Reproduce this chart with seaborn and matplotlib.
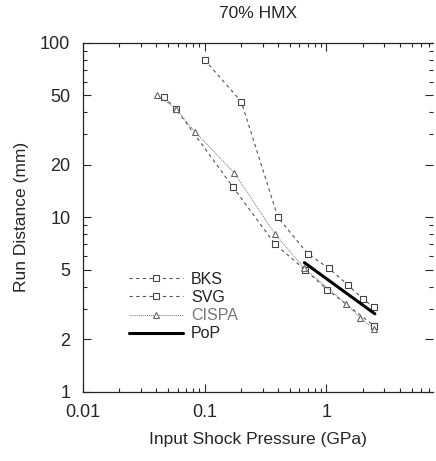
import matplotlib
matplotlib.use("Agg")
import matplotlib.pyplot as plt
import matplotlib.ticker as mticker
import seaborn as sns

# data (pressure in GPa, run distance in mm)
bks_p = [0.1, 0.2, 0.4, 0.7, 1.05, 1.5, 2.0, 2.45]
bks_d = [80, 46, 10, 6.2, 5.1, 4.1, 3.4, 3.05]

svg_p = [0.046, 0.058, 0.17, 0.38, 0.67, 1.02, 2.45]
svg_d = [49, 42, 15, 7.0, 5.0, 3.85, 2.4]

cispa_p = [0.041, 0.058, 0.083, 0.175, 0.38, 0.66, 1.45, 1.9, 2.45]
cispa_d = [50, 42, 31, 18, 8.0, 5.1, 3.2, 2.65, 2.3]

pop_p = [0.66, 2.5]
pop_d = [5.5, 2.8]

y_ticks = [1, 2, 5, 10, 20, 50, 100]
x_ticks = [0.01, 0.1, 1]

sns.set_style("ticks")
plt.rcParams['font.family'] = ['Liberation Sans', 'DejaVu Sans']

fig = plt.figure(figsize=(4.36, 4.61), dpi=100)
ax = fig.add_axes([0.19, 0.15, 0.803, 0.757])

sns.lineplot(x=bks_p, y=bks_d, ax=ax, estimator=None, sort=False,
             color="#555555", lw=0.8, dashes=False, linestyle=(0, (3, 3)),
             marker="s", markersize=5, markerfacecolor="white",
             markeredgecolor="#444444", markeredgewidth=0.8, label="BKS")
sns.lineplot(x=svg_p, y=svg_d, ax=ax, estimator=None, sort=False,
             color="#555555", lw=0.8, dashes=False, linestyle=(0, (3, 3)),
             marker="s", markersize=5, markerfacecolor="white",
             markeredgecolor="#444444", markeredgewidth=0.8, label="SVG")
sns.lineplot(x=cispa_p, y=cispa_d, ax=ax, estimator=None, sort=False,
             color="#777777", lw=0.7, dashes=False, linestyle=(0, (1, 1)),
             marker="^", markersize=5, markerfacecolor="white",
             markeredgecolor="#666666", markeredgewidth=0.8, label="CISPA")
sns.lineplot(x=pop_p, y=pop_d, ax=ax, estimator=None, sort=False,
             color="black", lw=2.2, label="PoP")

ax.set_xscale("log")
ax.set_yscale("log")
ax.set_xlim(0.01, 7.5)
ax.set_ylim(1, 100)

ax.xaxis.set_major_locator(mticker.FixedLocator(x_ticks))
ax.xaxis.set_major_formatter(mticker.FixedFormatter(["0.01", "0.1", "1"]))
ax.xaxis.set_minor_locator(mticker.LogLocator(base=10, subs=range(2, 10)))
ax.xaxis.set_minor_formatter(mticker.NullFormatter())
ax.yaxis.set_major_locator(mticker.FixedLocator(y_ticks))
ax.yaxis.set_major_formatter(mticker.FixedFormatter([str(v) for v in y_ticks]))
ax.yaxis.set_minor_locator(mticker.LogLocator(base=10, subs=range(2, 10)))
ax.yaxis.set_minor_formatter(mticker.NullFormatter())

ax.tick_params(which="both", direction="in", top=True, right=True,
               labelsize=13, width=0.8)
ax.tick_params(which="major", length=6, pad=9)
ax.tick_params(which="minor", length=3)
for s in ["left", "bottom", "top"]:
    ax.spines[s].set_linewidth(0.9)
ax.spines["right"].set_visible(False)

ax.set_xlabel("Input Shock Pressure (GPa)", fontsize=12.5, labelpad=8)
ax.set_ylabel("Run Distance (mm)", fontsize=12.5, labelpad=8)
ax.set_title("70% HMX", fontsize=12.5, pad=18)

leg = ax.legend(loc="upper left", bbox_to_anchor=(0.09, 0.385), frameon=False,
                fontsize=11.5, handlelength=3.4, handletextpad=0.5,
                labelspacing=0.2)
for t in leg.get_texts():
    t.set_color("#222222")
leg.get_texts()[2].set_color("#777777")

fig.savefig("out.png", dpi=100)
